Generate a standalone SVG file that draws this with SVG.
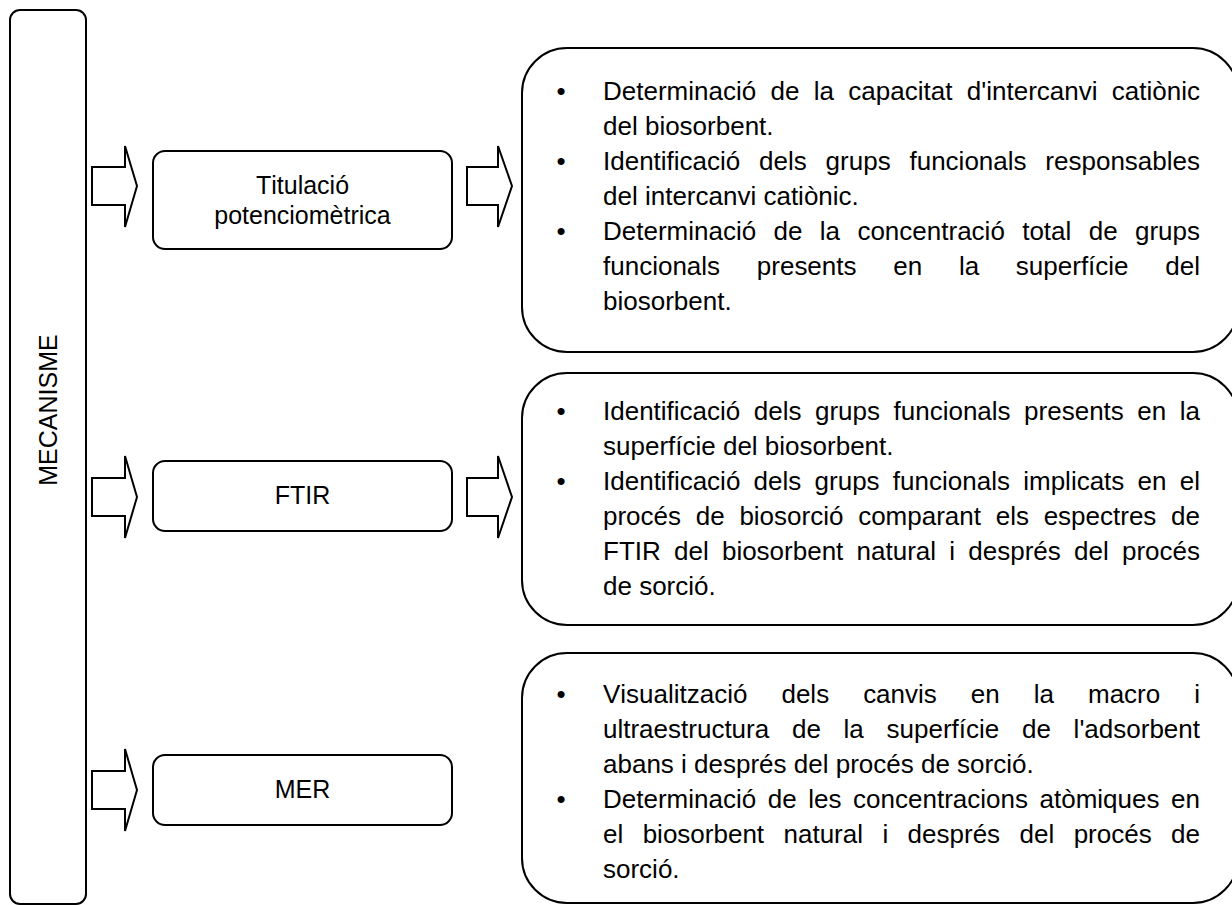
<svg xmlns="http://www.w3.org/2000/svg" width="1232" height="905" viewBox="0 0 1232 905">
  <style>
    .box { fill: #ffffff; stroke: #000000; stroke-width: 2; }
    .arrow { fill: #ffffff; stroke: #000000; stroke-width: 2; stroke-linejoin: miter; }
    text { font-family: "Liberation Sans", Arial, sans-serif; fill: #000000; font-kerning: none; }
    .label { font-size: 25px; text-anchor: middle; }
    .body { font-size: 26px; }
    .bullet { font-size: 26px; text-anchor: middle; }
  </style>
  <rect x="0" y="0" width="1232" height="905" fill="#ffffff"/>

  <!-- Left column: mechanism -->
  <g id="node-mecanisme">
    <rect class="box" x="10" y="10" width="76" height="894" rx="10" ry="10"/>
    <text class="label" transform="translate(57,410) rotate(-90)" x="0" y="0" font-size="27">MECANISME</text>
  </g>

  <!-- Technique nodes -->
  <g id="node-titulacio">
    <rect class="box" x="153" y="151" width="299" height="98" rx="12" ry="12"/>
    <text class="label" x="302.5" y="194">Titulació</text>
    <text class="label" x="302.5" y="224">potenciomètrica</text>
  </g>
  <g id="node-ftir">
    <rect class="box" x="153" y="461" width="299" height="70" rx="12" ry="12"/>
    <text class="label" x="302.5" y="504">FTIR</text>
  </g>
  <g id="node-mer">
    <rect class="box" x="153" y="755" width="299" height="70" rx="12" ry="12"/>
    <text class="label" x="302.5" y="798">MER</text>
  </g>

  <!-- Block arrows -->
  <g id="connectors">
    <polygon class="arrow" points="92,167 125,167 125,146 137,186 125,227 125,205 92,205"/>
    <polygon class="arrow" points="467,167 498,167 498,146 512,186 498,227 498,205 467,205"/>
    <polygon class="arrow" points="92,478 125,478 125,456 137,497 125,538 125,516 92,516"/>
    <polygon class="arrow" points="467,478 498,478 498,456 512,497 498,538 498,516 467,516"/>
    <polygon class="arrow" points="92,771 125,771 125,749 137,790 125,831 125,809 92,809"/>
  </g>

  <!-- Description: potentiometric titration -->
  <g id="node-desc-titulacio">
    <rect class="box" x="522" y="48" width="716" height="304" rx="45" ry="45"/>
    <text class="bullet" x="561" y="100">•</text>
    <text class="body" x="603" y="100" word-spacing="7.1" textLength="597" lengthAdjust="spacing">Determinació de la capacitat d'intercanvi catiònic</text>
    <text class="body" x="603" y="135">del biosorbent.</text>
    <text class="bullet" x="561" y="170">•</text>
    <text class="body" x="603" y="170" word-spacing="11.6" textLength="597" lengthAdjust="spacing">Identificació dels grups funcionals responsables</text>
    <text class="body" x="603" y="205">del intercanvi catiònic.</text>
    <text class="bullet" x="561" y="240">•</text>
    <text class="body" x="603" y="240" word-spacing="10.1" textLength="597" lengthAdjust="spacing">Determinació de la concentració total de grups</text>
    <text class="body" x="603" y="275" word-spacing="29.5" textLength="597" lengthAdjust="spacing">funcionals presents en la superfície del</text>
    <text class="body" x="603" y="310">biosorbent.</text>
  </g>

  <!-- Description: FTIR -->
  <g id="node-desc-ftir">
    <rect class="box" x="522" y="373" width="716" height="252" rx="45" ry="45"/>
    <text class="bullet" x="561" y="420">•</text>
    <text class="body" x="603" y="420" word-spacing="6.3" textLength="597" lengthAdjust="spacing">Identificació dels grups funcionals presents en la</text>
    <text class="body" x="603" y="455">superfície del biosorbent.</text>
    <text class="bullet" x="561" y="490">•</text>
    <text class="body" x="603" y="490" word-spacing="6.0" textLength="597" lengthAdjust="spacing">Identificació dels grups funcionals implicats en el</text>
    <text class="body" x="603" y="525" word-spacing="7.5" textLength="597" lengthAdjust="spacing">procés de biosorció comparant els espectres de</text>
    <text class="body" x="603" y="560" word-spacing="6.0" textLength="597" lengthAdjust="spacing">FTIR del biosorbent natural i després del procés</text>
    <text class="body" x="603" y="595">de sorció.</text>
  </g>

  <!-- Description: SEM -->
  <g id="node-desc-mer">
    <rect class="box" x="522" y="653" width="716" height="250" rx="45" ry="45"/>
    <text class="bullet" x="561" y="703">•</text>
    <text class="body" x="603" y="703" word-spacing="26.8" textLength="597" lengthAdjust="spacing">Visualització dels canvis en la macro i</text>
    <text class="body" x="603" y="738" word-spacing="15.5" textLength="597" lengthAdjust="spacing">ultraestructura de la superfície de l'adsorbent</text>
    <text class="body" x="603" y="773">abans i després del procés de sorció.</text>
    <text class="bullet" x="561" y="808">•</text>
    <text class="body" x="603" y="808" word-spacing="4.4" textLength="597" lengthAdjust="spacing">Determinació de les concentracions atòmiques en</text>
    <text class="body" x="603" y="843" word-spacing="12.2" textLength="597" lengthAdjust="spacing">el biosorbent natural i després del procés de</text>
    <text class="body" x="603" y="878">sorció.</text>
  </g>
</svg>
